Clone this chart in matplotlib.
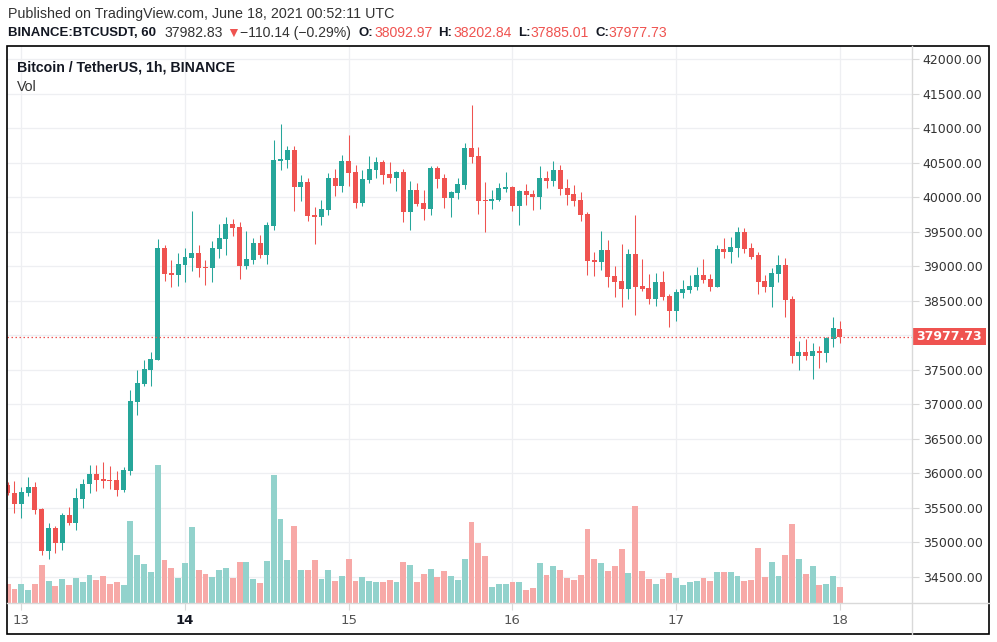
import numpy as np
import matplotlib.pyplot as plt
from matplotlib import transforms
from matplotlib.patches import Rectangle
from matplotlib.lines import Line2D

plt.rcParams['font.family'] = ['DejaVu Sans']

# hourly candles, hour 0 = 13 June 00:00 UTC (first candle 12 June 22:00)
hours = list(range(-2, 121))
opens = [35832, 35716, 35562, 35716, 35803, 35485, 34881, 35210, 34997, 35398,
         35287, 35634, 35847, 35991, 35919, 35905, 35905, 35765, 36040, 37038,
         37294, 37497, 37642, 39264, 38902, 38873, 39018, 39119, 39191, 38989,
         38974, 39249, 39394, 39611, 39568, 39003, 39090, 39336, 39162, 39582,
         40523, 40538, 40682, 40147, 40219, 39741, 39712, 39814, 40277, 40161,
         40523, 40364, 39915, 40248, 40393, 40509, 40335, 40277, 40364, 39785,
         40103, 39915, 39828, 40422, 40277, 39987, 40060, 40176, 40711, 40596,
         39958, 39944, 39958, 40118, 40147, 39871, 40089, 40045, 40002, 40277,
         40234, 40393, 40132, 40045, 39958, 39756, 39090, 39061, 39235, 38858,
         38786, 38670, 39177, 38713, 38684, 38525, 38771, 38568, 38351, 38612,
         38655, 38699, 38873, 38815, 38699, 39249, 39206, 39264, 39495, 39264,
         39162, 38786, 38699, 38887, 39017, 38525, 37700, 37758, 37700, 37772,
         37743, 37946, 38092.97]
highs = [35870, 35890, 35803, 35948, 35876, 35499, 35282, 35239, 35427, 35514,
         35789, 35919, 36122, 36122, 36165, 36107, 36035, 36093, 37207, 37497,
         37642, 37758, 39394, 39307, 39090, 39191, 39264, 39799, 39307, 39090,
         39365, 39611, 39712, 39683, 39640, 39510, 39408, 39452, 39640, 40827,
         41059, 40740, 40740, 40320, 40277, 39857, 39958, 40350, 40407, 40610,
         40900, 40465, 40393, 40596, 40581, 40538, 40509, 40378, 40407, 40234,
         40205, 40103, 40451, 40451, 40335, 40089, 40277, 40784, 41334, 40726,
         40219, 40103, 40205, 40364, 40161, 40103, 40190, 40103, 40451, 40378,
         40523, 40465, 40263, 40176, 40074, 39785, 39206, 39510, 39379, 39003,
         39321, 39249, 39741, 39104, 38887, 38902, 38930, 38597, 38670, 38800,
         38873, 38988, 39104, 38887, 39307, 39408, 39423, 39568, 39553, 39336,
         39206, 38873, 38974, 39162, 39119, 38568, 37917, 37946, 37888, 37845,
         37975, 38265, 38202.84]
lows = [35690, 35432, 35359, 35678, 35417, 34823, 34765, 34852, 34891, 35258,
        35185, 35504, 35721, 35750, 35793, 35779, 35678, 35736, 35982, 36850,
        37265, 37266, 37642, 38786, 38699, 38713, 38771, 38931, 38844, 38728,
        38771, 39119, 39162, 39437, 38815, 38960, 39032, 39119, 39032, 39524,
        40393, 40422, 39799, 39944, 39654, 39322, 39597, 39741, 40016, 40074,
        40161, 39843, 39872, 40205, 40277, 40190, 40205, 40089, 39640, 39524,
        39872, 39669, 39741, 40132, 39843, 39712, 39973, 40118, 40494, 39756,
        39495, 39828, 39944, 40074, 39799, 39597, 39886, 39814, 39828, 40132,
        40161, 40031, 39886, 39871, 39654, 38873, 38858, 38945, 38699, 38554,
        38409, 38525, 38293, 38641, 38453, 38424, 38510, 38120, 38206, 38540,
        38612, 38655, 38757, 38641, 38699, 39119, 39046, 39133, 39191, 39104,
        38597, 38626, 38409, 38771, 38264, 37599, 37497, 37642, 37367, 37526,
        37613, 37830, 37885.01]
closes = [35711, 35562, 35731, 35803, 35475, 34881, 35210, 34997, 35398, 35287,
          35644, 35847, 35991, 35909, 35890, 35890, 35765, 36049, 37048, 37309,
          37511, 37657, 39264, 38887, 38873, 39032, 39133, 39191, 38974, 38974,
          39264, 39409, 39611, 39553, 39003, 39104, 39336, 39162, 39597, 40538,
          40552, 40682, 40147, 40219, 39727, 39712, 39828, 40277, 40161, 40523,
          40350, 39915, 40262, 40407, 40509, 40320, 40277, 40364, 39785, 40103,
          39901, 39828, 40422, 40262, 39987, 40074, 40190, 40711, 40581, 39944,
          39944, 39973, 40132, 40147, 39871, 40089, 40031, 40002, 40277, 40234,
          40393, 40118, 40031, 39944, 39741, 39075, 39061, 39235, 38844, 38771,
          38670, 39177, 38699, 38670, 38525, 38771, 38554, 38351, 38626, 38670,
          38713, 38873, 38800, 38699, 39249, 39206, 39278, 39495, 39249, 39133,
          38771, 38699, 38902, 39017, 38511, 37700, 37758, 37700, 37772, 37743,
          37961, 38105, 37977.73]
volumes = [1970, 1470, 1970, 1370, 1970, 3870, 2270, 1770, 2470, 1870,
           2570, 2170, 2870, 2370, 2770, 1970, 2170, 1870, 8270, 4870,
           3970, 3170, 13800, 4300, 3500, 2500, 4000, 7600, 3300, 2900,
           2600, 3300, 3500, 2500, 4100, 4100, 2400, 2000, 4200, 12800,
           8400, 4300, 7700, 3300, 3300, 4300, 2400, 3300, 2200, 2700,
           4400, 2200, 2600, 2200, 2100, 2100, 2300, 2100, 4100, 3800,
           2100, 2900, 3400, 2600, 3200, 2700, 2300, 4400, 8100, 6000,
           4700, 1600, 1900, 1900, 2100, 2100, 1300, 1500, 4000, 2800,
           3700, 3300, 2500, 2300, 2800, 7400, 4400, 4000, 3200, 3700,
           5400, 3000, 9700, 3200, 2400, 1900, 2400, 3000, 2500, 1800,
           2100, 2200, 2500, 2200, 3100, 3100, 3100, 2700, 2200, 2300,
           5500, 2600, 4100, 2700, 4800, 7900, 4400, 2900, 3700, 1800,
           1900, 2700, 1600]

day_ticks = [0, 24, 48, 72, 96, 120]
day_labels = ['13', '14', '15', '16', '17', '18']
price_ticks = list(range(34500, 42001, 500))
last_price = closes[-1]

up = '#26a69a'
down = '#ef5350'
up_vol = '#92d2cc'
down_vol = '#f7a9a7'
grid_c = '#eeeff2'
sep_c = '#d9d9d9'
txt_font = ['Liberation Sans', 'DejaVu Sans']

W, H = 997, 642
def fx(p):
    return p / W
def fy(p):
    return 1 - p / H

fig = plt.figure(figsize=(W / 100, H / 100), dpi=100)
left, right, top, bottom = 7.3, 911.5, 45.7, 603.3
axv = fig.add_axes([fx(left), fy(bottom), (right - left) / W, (bottom - top) / H])
ax = axv.twinx()

x = np.array(hours)
o = np.array(opens); c = np.array(closes)
hi = np.array(highs); lo = np.array(lows)
is_up = c >= o

# volume
axv.bar(x, volumes, width=0.86, color=np.where(is_up, up_vol, down_vol), linewidth=0, zorder=2)
axv.set_ylim(0, 55760)
axv.set_xlim(-2.05, 130.5)

# price
ax.set_ylim(34119, 42193)
cols = np.where(is_up, up, down)
ax.vlines(x, lo, hi, colors=cols, linewidth=0.75, zorder=3)
body = np.maximum(np.abs(c - o), 15)
ax.bar(x, body, bottom=np.minimum(o, c), width=0.73, color=cols, linewidth=0, zorder=4)

# grid drawn under the volume bars
blend = transforms.blended_transform_factory(axv.transAxes, ax.transData)
for p in price_ticks:
    axv.add_line(Line2D([0, 1], [p, p], transform=blend, color=grid_c, lw=0.9, zorder=0))
for d in day_ticks:
    axv.axvline(d, color=grid_c, lw=0.9, zorder=0)

ax.axhline(last_price, color=down, lw=0.9, linestyle=(0, (1.2, 2)), zorder=5)

for a in (ax, axv):
    for s in a.spines.values():
        s.set_visible(False)
axv.set_yticks([])
# the last-price tag covers the 38000 label
shown = [p for p in price_ticks if abs(p - last_price) > 250]
ax.set_yticks(shown)
ax.set_yticklabels(['%.2f' % p for p in shown])
ax.tick_params(axis='y', direction='out', length=5, width=0.8, color=sep_c,
               labelcolor='#333333', labelsize=9, pad=3)
axv.set_xticks(day_ticks)
axv.set_xticklabels(day_labels)
axv.tick_params(axis='x', direction='out', length=5, width=0.8, color=sep_c,
                labelcolor='#555555', labelsize=9.5, pad=3)
axv.get_xticklabels()[1].set_fontweight('bold')
axv.get_xticklabels()[1].set_color('#131722')

# last price tag on the price scale
pb = transforms.blended_transform_factory(ax.transAxes, ax.transData)
ax.add_patch(Rectangle((1.0005, last_price - 123), 0.0818, 246, transform=pb,
                       facecolor=down, edgecolor='none', clip_on=False, zorder=6))
ax.text(1.0415, last_price, '%.2f' % last_price, transform=pb, ha='center', va='center',
        color='white', fontsize=9, fontweight='bold', clip_on=False, zorder=7)

# frame and scale separators
fig.add_artist(Line2D([fx(right), fx(right)], [fy(46), fy(634)], color=sep_c, lw=1))
fig.add_artist(Line2D([fx(left), fx(989)], [fy(bottom), fy(bottom)], color=sep_c, lw=1))
fig.add_artist(Rectangle((fx(7.3), fy(634)), (989 - 7.3) / W, (634 - 46) / H,
                         transform=fig.transFigure, fill=False, edgecolor='black', lw=1.2))

# header
fig.text(fx(8), fy(14), 'Published on TradingView.com, June 18, 2021 00:52:11 UTC',
         fontsize=10.3, color='#333333', va='center', family=txt_font)
row = fy(33)
parts = [(8, 'BINANCE:BTCUSDT, 60', '#131722', 'bold'),
         (164, '37982.83', '#333333', 'normal'),
         (226, '\u25bc', down, 'normal'),
         (240, '\u2212110.14 (\u22120.29%)', '#333333', 'normal'),
         (358, 'O:', '#131722', 'bold'),
         (374, '%.2f' % opens[-1], down, 'normal'),
         (438, 'H:', '#131722', 'bold'),
         (453, '%.2f' % highs[-1], down, 'normal'),
         (518, 'L:', '#131722', 'bold'),
         (530, '%.2f' % lows[-1], down, 'normal'),
         (595, 'C:', '#131722', 'bold'),
         (608, '%.2f' % closes[-1], down, 'normal')]
for px, s, col, fw in parts:
    fig.text(fx(px), row, s, fontsize=10.1 if fw == 'normal' else 9.5, color=col,
             fontweight=fw, va='center', family=txt_font)

fig.text(fx(17), fy(68), 'Bitcoin / TetherUS, 1h, BINANCE', fontsize=10.2,
         fontweight='bold', color='#131722', va='center', family=txt_font)
fig.text(fx(17), fy(87), 'Vol', fontsize=10.2, color='#333333', va='center', family=txt_font)

plt.savefig('out.png', dpi=100, facecolor='white')
